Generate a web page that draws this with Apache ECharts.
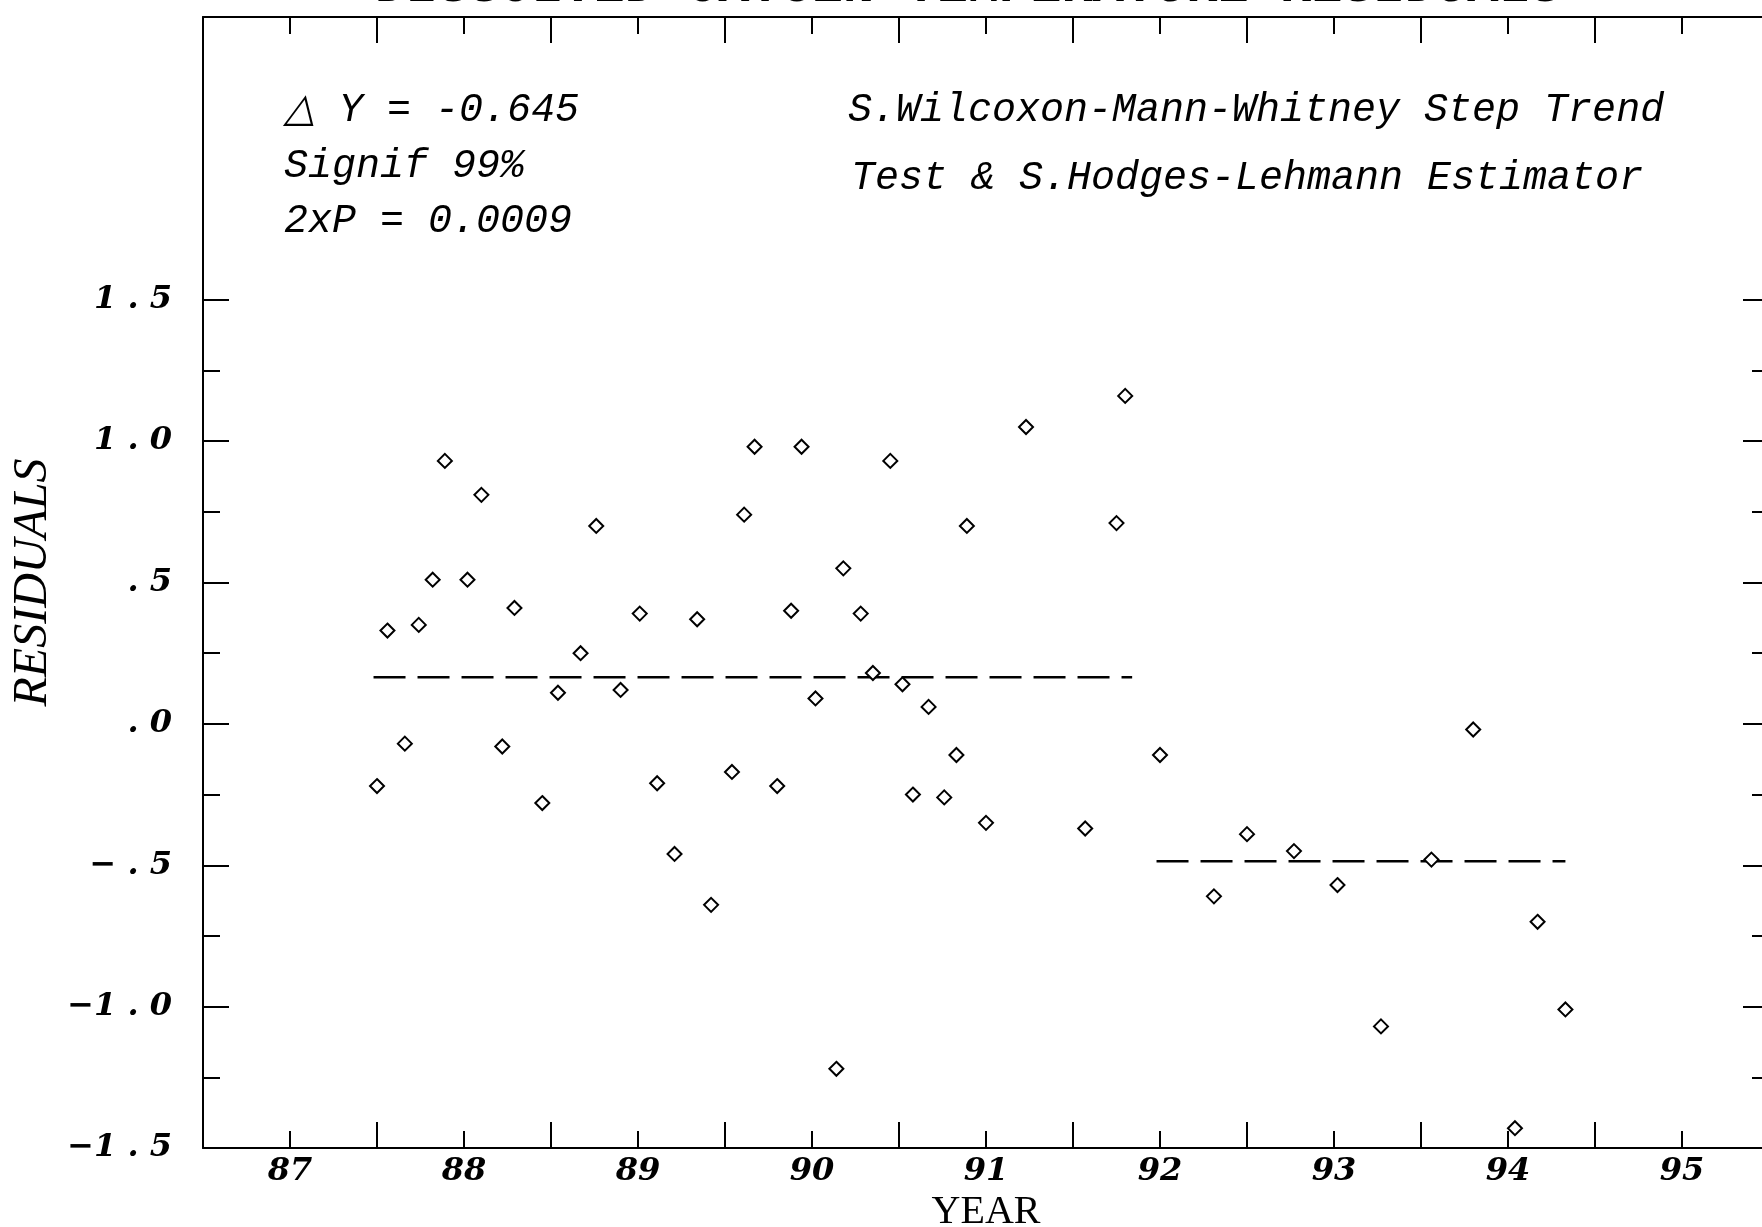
<!DOCTYPE html>
<html>
<head>
<meta charset="utf-8">
<script src="https://cdn.jsdelivr.net/npm/echarts@6/dist/echarts.min.js"></script>
<style>
  html, body { margin: 0; padding: 0; background: #fff; }
  #chart { width: 1762px; height: 1227px; }
</style>
</head>
<body>
<div id="chart"></div>
<script>
// ---- data (decimal years; label "87" sits at the middle of 1987) ----
var sampleYears = [88.00, 88.06, 88.16, 88.24, 88.32, 88.39, 88.52, 88.60, 88.72, 88.79,
                   88.95, 89.04, 89.17, 89.26, 89.40, 89.51, 89.61, 89.71, 89.84, 89.92,
                   90.04, 90.11, 90.17, 90.30, 90.38, 90.44, 90.52, 90.64, 90.68, 90.78,
                   90.85, 90.95, 91.02, 91.08, 91.17, 91.26, 91.33, 91.39, 91.50, 91.73,
                   92.07, 92.25, 92.30, 92.50, 92.81, 93.00, 93.27, 93.52, 93.77, 94.06,
                   94.30, 94.54, 94.67, 94.83];
var residuals = [-0.22, 0.33, -0.07, 0.35, 0.51, 0.93, 0.51, 0.81, -0.08, 0.41,
                 -0.28, 0.11, 0.25, 0.70, 0.12, 0.39, -0.21, -0.46, 0.37, -0.64,
                 -0.17, 0.74, 0.98, -0.22, 0.40, 0.98, 0.09, -1.22, 0.55, 0.39,
                 0.18, 0.93, 0.14, -0.25, 0.06, -0.26, -0.11, 0.70, -0.35, 1.05,
                 -0.37, 0.71, 1.16, -0.11, -0.61, -0.39, -0.45, -0.57, -1.07, -0.48,
                 -0.02, -1.43, -0.70, -1.01];
// step-trend levels (Hodges-Lehmann estimates) and their spans
var beforeSpan = [87.98, 92.34];
var beforeLevel = 0.165;
var afterSpan = [92.48, 94.83];
var afterLevel = -0.486;

// ---- tick labels ----
var xLabelYears = [87, 88, 89, 90, 91, 92, 93, 94, 95];
var xTickLabels = ['87', '88', '89', '90', '91', '92', '93', '94', '95'];
var yTickValues = [-1.5, -1.0, -0.5, 0.0, 0.5, 1.0, 1.5];
var yTickLabels = ['\u22121 . 5', '\u22121 . 0', '\u2212 . 5', ' . 0', ' . 5', '1 . 0', '1 . 5'];

// ---- annotation texts ----
var titleText = 'DISSOLVED OXYGEN TEMPERATURE RESIDUALS';
var statLines = ['\u25B3 Y = -0.645', 'Signif 99%', '2xP = 0.0009'];
var testLines = ['S.Wilcoxon-Mann-Whitney Step Trend', 'Test & S.Hodges-Lehmann Estimator'];

// ---- layout ----
var W = 1762, H = 1227;
var gLeft = 203, gRight = -7, gTop = 17, gBottom = 79;
var yMin = -1.5, yMax = 2.5, yTickMax = 1.5;
var plotH = H - gTop - gBottom;
var tickGridTop = gTop + plotH * (yMax - yTickMax) / (yMax - yMin);

var scatterData = sampleYears.map(function (x, i) { return [x, residuals[i]]; });

var black = '#000';
var lineW = 2;
var tickLabelStyle = { color: black, fontStyle: 'italic', fontWeight: 'bold', fontSize: 32, fontFamily: 'DejaVu Serif' };
var noteFont = 'italic 40px "Liberation Mono"';

function xLabelFmt(v) {
  var frac = Math.abs(v - Math.floor(v) - 0.5);
  if (frac > 1e-6) return '';
  var idx = xLabelYears.indexOf(Math.floor(v));
  return idx >= 0 ? xTickLabels[idx] : '';
}
function yLabelFmt(v) {
  for (var i = 0; i < yTickValues.length; i++) {
    if (Math.abs(yTickValues[i] - v) < 1e-6) return yTickLabels[i];
  }
  return '';
}

var chart = echarts.init(document.getElementById('chart'), null, { renderer: 'canvas', width: W, height: H });

var mainTick = { show: true, inside: true, length: 26, lineStyle: { color: black, width: lineW } };
var minorTick = { show: true, splitNumber: 2, length: 17, lineStyle: { color: black, width: lineW } };
var axisLineStyle = { show: true, onZero: false, lineStyle: { color: black, width: lineW } };

var option = {
  backgroundColor: '#fff',
  animation: false,
  grid: [
    { left: gLeft, right: gRight, top: gTop, bottom: gBottom, containLabel: false, outerBoundsMode: 'none' },
    { left: gLeft, right: gRight, top: tickGridTop, bottom: gBottom, containLabel: false, outerBoundsMode: 'none' }
  ],
  xAxis: [
    { // bottom axis: long ticks at year boundaries, short at mid-year
      type: 'value', gridIndex: 0, position: 'bottom', min: 87, max: 96, interval: 1,
      axisLine: axisLineStyle, axisTick: mainTick, minorTick: minorTick,
      axisLabel: { show: false }, splitLine: { show: false }, minorSplitLine: { show: false }
    },
    { // bottom labels at mid-year
      type: 'value', gridIndex: 0, position: 'bottom', min: 87, max: 96, interval: 0.5,
      axisLine: { show: false }, axisTick: { show: false }, splitLine: { show: false },
      axisLabel: Object.assign({ show: true, margin: 8, formatter: xLabelFmt }, tickLabelStyle),
      name: 'YEAR', nameLocation: 'middle', nameGap: 40,
      nameTextStyle: { color: black, fontSize: 40, fontFamily: 'Liberation Serif' }
    },
    { // top axis
      type: 'value', gridIndex: 0, position: 'top', min: 87, max: 96, interval: 1,
      axisLine: axisLineStyle, axisTick: mainTick, minorTick: minorTick,
      axisLabel: { show: false }, splitLine: { show: false }
    },
    { // hidden x for the tick grid
      type: 'value', gridIndex: 1, min: 87, max: 96, show: false
    }
  ],
  yAxis: [
    {
      type: 'value', gridIndex: 0, position: 'left', min: yMin, max: yMax, interval: 0.5,
      axisLine: axisLineStyle, axisTick: { show: false }, axisLabel: { show: false },
      splitLine: { show: false },
      name: 'RESIDUALS', nameLocation: 'middle', nameGap: 146, nameRotate: 90,
      nameTextStyle: { color: black, fontSize: 48, fontStyle: 'italic', fontFamily: 'Liberation Serif' }
    },
    {
      type: 'value', gridIndex: 0, position: 'right', min: yMin, max: yMax, interval: 0.5,
      axisLine: axisLineStyle, axisTick: { show: false }, axisLabel: { show: false },
      splitLine: { show: false }
    },
    { // left ticks + labels only within [-1.5, 1.5]
      type: 'value', gridIndex: 1, position: 'left', min: yMin, max: yTickMax, interval: 0.5,
      axisLine: { show: false }, axisTick: mainTick, minorTick: minorTick,
      axisLabel: Object.assign({ show: true, margin: 31, formatter: yLabelFmt }, tickLabelStyle),
      splitLine: { show: false }
    },
    { // right ticks only
      type: 'value', gridIndex: 1, position: 'right', min: yMin, max: yTickMax, interval: 0.5,
      axisLine: { show: false }, axisTick: mainTick, minorTick: minorTick,
      axisLabel: { show: false }, splitLine: { show: false }
    }
  ],
  series: [
    {
      type: 'scatter', xAxisIndex: 0, yAxisIndex: 0, data: scatterData,
      symbol: 'diamond', symbolSize: 14,
      itemStyle: { color: '#fff', borderColor: black, borderWidth: 2, opacity: 1 },
      emphasis: { disabled: true }, z: 5
    },
    {
      type: 'line', xAxisIndex: 0, yAxisIndex: 0,
      data: [[beforeSpan[0], beforeLevel], [beforeSpan[1], beforeLevel]],
      symbol: 'none', lineStyle: { color: black, width: 2.5, type: [32, 12] }, z: 3
    },
    {
      type: 'line', xAxisIndex: 0, yAxisIndex: 0,
      data: [[afterSpan[0], afterLevel], [afterSpan[1], afterLevel]],
      symbol: 'none', lineStyle: { color: black, width: 2.5, type: [32, 12] }, z: 3
    }
  ],
  graphic: [
    { type: 'text', x: 375, y: -12, silent: true,
      style: { text: titleText, font: 'bold 52px "Liberation Mono"', fill: black, align: 'left', verticalAlign: 'middle' } },
    { type: 'text', x: 284, y: 110, silent: true,
      style: { text: statLines[0], font: noteFont, fill: black, align: 'left', verticalAlign: 'middle' } },
    { type: 'text', x: 284, y: 166, silent: true,
      style: { text: statLines[1], font: noteFont, fill: black, align: 'left', verticalAlign: 'middle' } },
    { type: 'text', x: 284, y: 221, silent: true,
      style: { text: statLines[2], font: noteFont, fill: black, align: 'left', verticalAlign: 'middle' } },
    { type: 'text', x: 848, y: 110, silent: true,
      style: { text: testLines[0], font: noteFont, fill: black, align: 'left', verticalAlign: 'middle' } },
    { type: 'text', x: 851, y: 178, silent: true,
      style: { text: testLines[1], font: noteFont, fill: black, align: 'left', verticalAlign: 'middle' } }
  ]
};

chart.setOption(option);
</script>
</body>
</html>
